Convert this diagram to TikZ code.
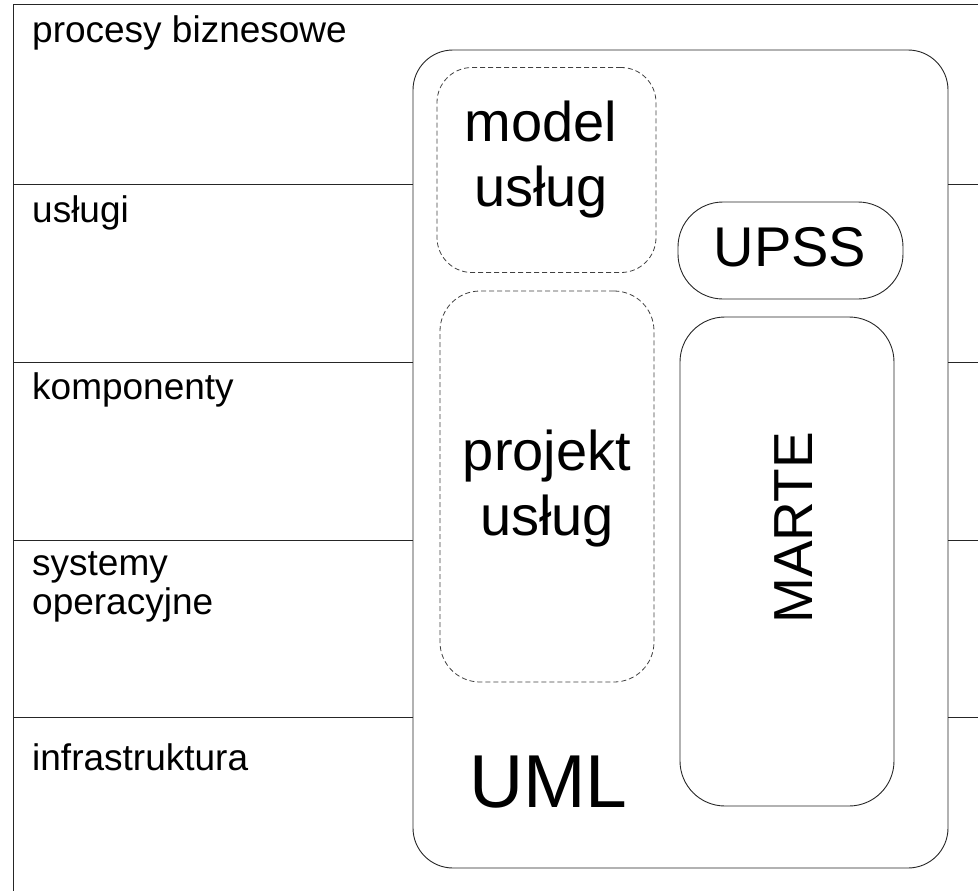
\documentclass[tikz,border=0pt]{standalone}
\usepackage{fontspec}
\setmainfont{Liberation Sans}
\begin{document}
\begin{tikzpicture}[x=1pt,y=-1pt,
  frame/.style={line width=1pt, draw=black!85},
  lbl/.style={anchor=base west, inner sep=0pt, font=\fontsize{37}{39}\selectfont, align=left},
  solidbox/.style={draw=black!85, line width=0.9pt, inner sep=0pt},
  dashbox/.style={draw=black!75, dash pattern=on 5pt off 3pt, line width=0.8pt, inner sep=0pt},
  bigtext/.style={inner sep=0pt, font=\fontsize{56}{65}\selectfont, align=center}
]
\useasboundingbox (0,0) rectangle (978,891);

% outer frame
\coordinate (tl) at (13,5);
\coordinate (tr) at (978,5);
\coordinate (bl) at (13,891);
\draw[frame] (tr) -- (tl) -- (bl);

% big UML box
\node[solidbox, rounded corners=40pt, minimum width=535pt, minimum height=818pt] (uml) at (680.5,459) {};

% layer separators
\foreach \yy/\nm in {184/a,362/b,540/c,717/d}{
  \coordinate (L\nm) at (13,\yy);
  \coordinate (R\nm) at (978,\yy);
  \draw[frame] (L\nm) -- (uml.west |- L\nm);
  \draw[frame] (uml.east |- R\nm) -- (R\nm);
}

% layer labels
\node[lbl] (l1) at (32,43) {procesy biznesowe};
\node[lbl] (l2) at (32,222) {usługi};
\node[lbl] (l3) at (32,399) {komponenty};
\node[lbl] (l4) at (32,614) {systemy\\operacyjne};
\node[lbl] (l5) at (32,770) {infrastruktura};

% inner boxes
\node[dashbox, rounded corners=35pt, minimum width=219pt, minimum height=205pt] (model) at (546.5,170) {};
\node[dashbox, rounded corners=40pt, minimum width=214pt, minimum height=391pt] (projekt) at (547,486.5) {};
\node[solidbox, rounded corners=45pt, minimum width=225pt, minimum height=97pt] (upss) at (790.5,250.5) {};
\node[solidbox, rounded corners=45pt, minimum width=214pt, minimum height=489pt] (marte) at (787,561.5) {};

% texts
\node[bigtext] (tmodel) at (541,160) {model\\usług};
\node[bigtext] (tprojekt) at (547,489) {projekt\\usług};
\node[bigtext] (tupss) at (790,247) {UPSS};
\node[bigtext, font=\fontsize{55}{60}\selectfont, rotate=90] (tmarte) at (794,528) {MARTE};
\node[bigtext, font=\fontsize{75}{80}\selectfont] (tuml) at (548.5,782.5) {UML};
\end{tikzpicture}
\end{document}
